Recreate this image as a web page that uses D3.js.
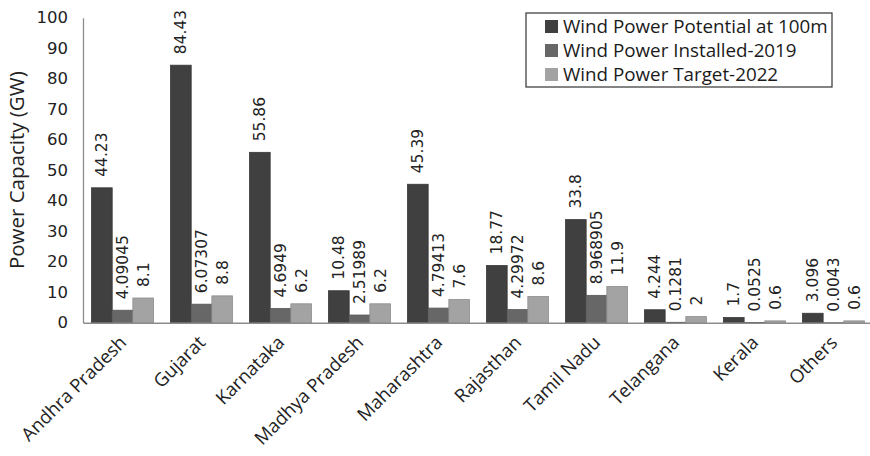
<!DOCTYPE html>
<html>
<head>
<meta charset="utf-8">
<script src="https://cdn.jsdelivr.net/npm/d3@7"></script>
<style>
  html, body { margin: 0; padding: 0; background: #fff; }
  svg { display: block; }
</style>
</head>
<body>
<svg id="chart" width="870" height="456"></svg>
<script>
// Wind power capacity by Indian state (GW)
const states = ["Andhra Pradesh", "Gujarat", "Karnataka", "Madhya Pradesh", "Maharashtra",
                "Rajasthan", "Tamil Nadu", "Telangana", "Kerala", "Others"];
const seriesNames = ["Wind Power Potential at 100m", "Wind Power Installed-2019", "Wind Power Target-2022"];
const potential100m = [44.23, 84.43, 55.86, 10.48, 45.39, 18.77, 33.8, 4.244, 1.7, 3.096];
const installed2019 = [4.09045, 6.07307, 4.6949, 2.51989, 4.79413, 4.29972, 8.968905, 0.1281, 0.0525, 0.0043];
const target2022 = [8.1, 8.8, 6.2, 6.2, 7.6, 8.6, 11.9, 2, 0.6, 0.6];
const yTicks = [0, 10, 20, 30, 40, 50, 60, 70, 80, 90, 100];

const seriesValues = [potential100m, installed2019, target2022];
const colors = ["#404040", "#676767", "#a3a3a3"];

const svg = d3.select("#chart");
const plotLeft = 83, plotRight = 873, plotTop = 17.7, plotBottom = 322.7;

const x = d3.scaleBand().domain(states).range([plotLeft, plotRight]).paddingInner(0.215).paddingOuter(0.108);
const xs = d3.scaleBand().domain(d3.range(seriesNames.length)).range([0, x.bandwidth()]);
const y = d3.scaleLinear().domain([0, 100]).range([plotBottom, plotTop]);

const textFont = "'Open Sans', sans-serif";
const numFont = "'DejaVu Sans', sans-serif";
const ink = "#222";

// y axis
const yAxis = svg.append("g")
  .attr("transform", `translate(${plotLeft},0)`)
  .call(d3.axisLeft(y).tickValues(yTicks).tickSize(0).tickPadding(15).tickFormat(d => String(d)));
yAxis.select(".domain").attr("stroke", "#8c8c8c").attr("stroke-width", 1.3);
yAxis.selectAll("text").attr("font-family", numFont).attr("font-size", 16.5).attr("fill", ink);

// bars
const groups = svg.append("g").selectAll("g")
  .data(states)
  .join("g")
  .attr("transform", d => `translate(${x(d)},0)`);

seriesValues.forEach((vals, si) => {
  groups.append("rect")
    .attr("x", xs(si))
    .attr("width", xs.bandwidth())
    .attr("y", (d, i) => y(vals[i]))
    .attr("height", (d, i) => y(0) - y(vals[i]))
    .attr("fill", colors[si])
    .attr("stroke", d3.color(colors[si]).darker(0.4))
    .attr("stroke-width", 0.8);
});

// data labels, rotated above each bar
seriesValues.forEach((vals, si) => {
  groups.append("text")
    .attr("transform", (d, i) => `translate(${xs(si) + xs.bandwidth() / 2},${y(vals[i]) - 11}) rotate(-90)`)
    .attr("dy", "0.35em")
    .attr("text-anchor", "start")
    .attr("font-family", numFont)
    .attr("font-size", 15.5)
    .attr("fill", ink)
    .text((d, i) => String(vals[i]));
});

// x axis
const xAxis = svg.append("g")
  .attr("transform", `translate(0,${plotBottom})`)
  .call(d3.axisBottom(x).tickSize(0).tickPadding(0));
xAxis.select(".domain").attr("stroke", "#8c8c8c").attr("stroke-width", 1.6);
xAxis.selectAll(".tick text")
  .attr("font-family", textFont)
  .attr("font-size", 18.5)
  .attr("fill", ink)
  .attr("text-anchor", "end")
  .attr("dy", 0)
  .attr("transform", "translate(5,21) rotate(-45)");

// y axis title
svg.append("text")
  .attr("transform", `translate(24,${(plotTop + plotBottom) / 2}) rotate(-90)`)
  .attr("text-anchor", "middle")
  .attr("font-family", textFont)
  .attr("font-size", 20.5)
  .attr("fill", ink)
  .text("Power Capacity (GW)");

// legend
const legend = svg.append("g").attr("transform", "translate(526,13)");
legend.append("rect")
  .attr("width", 306).attr("height", 74)
  .attr("fill", "#fff").attr("stroke", "#333").attr("stroke-width", 1.2);
seriesNames.forEach((name, i) => {
  const row = legend.append("g").attr("transform", `translate(19,${13 + i * 24})`);
  row.append("rect").attr("x", 0).attr("y", -6).attr("width", 13).attr("height", 13).attr("fill", colors[i]);
  row.append("text")
    .attr("x", 18).attr("dy", "0.36em")
    .attr("font-family", textFont)
    .attr("font-size", 18.8)
    .attr("fill", "#1a1a1a")
    .text(name);
});
</script>
</body>
</html>
